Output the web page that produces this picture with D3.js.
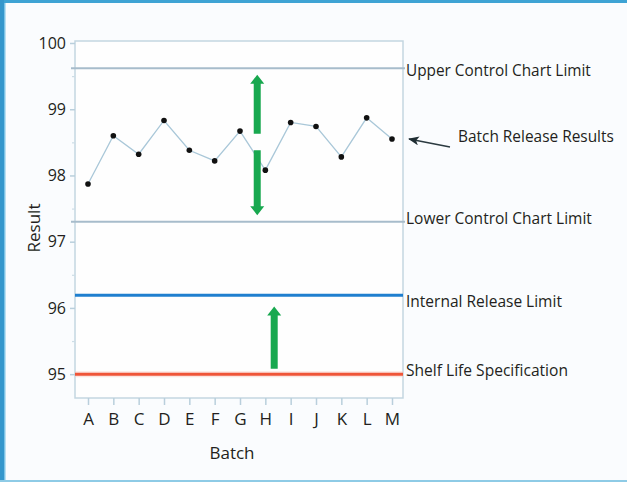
<!DOCTYPE html>
<html>
<head>
<meta charset="utf-8">
<script src="https://cdn.jsdelivr.net/npm/d3@7"></script>
<style>
  html, body { margin: 0; padding: 0; background: #ffffff; }
  svg { display: block; }
  text { font-family: "Open Sans", "Noto Sans", sans-serif; fill: #231f20; }
</style>
</head>
<body>
<svg id="chart" width="627" height="482"></svg>
<script>
// Batch release results (assay %) for batches A–M
const batches = ["A", "B", "C", "D", "E", "F", "G", "H", "I", "J", "K", "L", "M"];
const results = [97.87, 98.60, 98.32, 98.83, 98.38, 98.22, 98.67, 98.08, 98.80, 98.74, 98.28, 98.87, 98.55];

// Reference limits drawn across the chart
const limitNames = ["Upper Control Chart Limit", "Lower Control Chart Limit", "Internal Release Limit", "Shelf Life Specification"];
const limitValues = [99.62, 97.30, 96.19, 95.00];

// Y axis ticks
const yTicks = [95, 96, 97, 98, 99, 100];
const yMinorTicks = [95.5, 96.5, 97.5, 98.5, 99.5];

// Green arrows: batch they sit next to, and the values they span
const arrowBatch = ["G", "G", "H"];
const arrowFrom = [98.63, 98.38, 95.08];
const arrowTo = [99.52, 97.40, 96.02];

// Styling for the limit lines and their labels
const limitColors = ["#a7bccb", "#a7bccb", "#1f7fcf", "#ef5538"];
const limitWidths = [2, 2, 3, 3];
const limitLabelWidths = [185, 186, 156, 162];
const limitLabelDy = [8, 2, 12, 2];
const arrowOffset = [0.68, 0.68, 0.35];

const svg = d3.select("#chart");
const W = 627, H = 482;

// Squeeze a label horizontally to a given width, like a condensed face
function condense(sel, width) {
  sel.each(function () {
    const t = d3.select(this);
    const x0 = +t.attr("x"), y0 = +t.attr("y");
    const natural = this.getComputedTextLength();
    const k = width / natural;
    t.attr("x", 0).attr("y", 0)
      .attr("transform", `translate(${x0},${y0}) scale(${k},1)`);
  });
}

// Page frame
svg.append("rect").attr("x", 0).attr("y", 0).attr("width", W).attr("height", H).attr("fill", "#fafcfe");
svg.append("rect").attr("x", 0).attr("y", 0).attr("width", W).attr("height", 3).attr("fill", "#3ea3d4");
svg.append("rect").attr("x", 0).attr("y", 0).attr("width", 4).attr("height", H).attr("fill", "#3597cc");
svg.append("rect").attr("x", 4).attr("y", 3).attr("width", 1.5).attr("height", H).attr("fill", "#7cc3e6");
svg.append("rect").attr("x", 0).attr("y", 480).attr("width", W).attr("height", 2).attr("fill", "#8ecbe6");

const plot = { left: 75, right: 403, top: 41, bottom: 398 };

const x = d3.scalePoint().domain(batches).range([88, 392]);
const y = d3.scaleLinear().domain([94.64, 100.03]).range([plot.bottom, plot.top]);

// Plot panel
svg.append("rect")
  .attr("x", plot.left).attr("y", plot.top)
  .attr("width", plot.right - plot.left).attr("height", plot.bottom - plot.top)
  .attr("fill", "#fefefe").attr("stroke", "#c4d6e1").attr("stroke-width", 1.5);

// Y axis
const yAxis = d3.axisLeft(y).tickValues(yTicks).tickFormat(d3.format("d")).tickSize(5).tickPadding(4);
const gy = svg.append("g").attr("transform", `translate(${plot.left},0)`).call(yAxis);
gy.select(".domain").remove();
gy.selectAll(".tick line").attr("stroke", "#b9cfdc").attr("stroke-width", 1.5);
gy.selectAll(".tick text").attr("font-size", 16).attr("fill", "#231f20")
  .style("font-family", "'Open Sans', sans-serif");

const gyMinor = svg.append("g").attr("transform", `translate(${plot.left},0)`)
  .call(d3.axisLeft(y).tickValues(yMinorTicks).tickSize(3).tickFormat(""));
gyMinor.select(".domain").remove();
gyMinor.selectAll(".tick line").attr("stroke", "#cddde6").attr("stroke-width", 1.2);

// X axis
const xAxis = d3.axisBottom(x).tickSize(7).tickPadding(8);
const gx = svg.append("g").attr("transform", `translate(0,${plot.bottom})`).call(xAxis);
gx.select(".domain").remove();
gx.selectAll(".tick line").attr("stroke", "#b9cfdc").attr("stroke-width", 1.5);
gx.selectAll(".tick text").attr("font-size", 17).attr("fill", "#231f20")
  .style("font-family", "'Open Sans', sans-serif");

// Axis titles
svg.append("text").attr("x", 232).attr("y", 459).attr("text-anchor", "middle")
  .attr("font-size", 17).text("Batch");
svg.append("text").attr("transform", "translate(40,228) rotate(-90)").attr("text-anchor", "middle")
  .attr("font-size", 17).text("Result");

// Limit lines
const limits = limitNames.map((name, i) => ({ name, value: limitValues[i], color: limitColors[i], width: limitWidths[i], labelWidth: limitLabelWidths[i], dy: limitLabelDy[i] }));

// soft glow under the shelf-life line
svg.append("line")
  .attr("x1", plot.left).attr("x2", plot.right)
  .attr("y1", y(limitValues[3])).attr("y2", y(limitValues[3]))
  .attr("stroke", "#f9c9bf").attr("stroke-width", 6).attr("opacity", 0.45);

svg.selectAll("line.limit").data(limits).enter().append("line")
  .attr("class", "limit")
  .attr("x1", (d, i) => i < 2 ? plot.left - 4 : plot.left)
  .attr("x2", (d, i) => i < 2 ? plot.right + 2 : plot.right)
  .attr("y1", d => y(d.value)).attr("y2", d => y(d.value))
  .attr("stroke", d => d.color).attr("stroke-width", d => d.width);

svg.selectAll("text.limit").data(limits).enter().append("text")
  .attr("class", "limit")
  .attr("x", 406).attr("y", d => y(d.value) + d.dy)
  .attr("font-size", 17)
  .text(d => d.name)
  .each(function (d) { condense(d3.select(this), d.labelWidth); });

// Results series
const series = batches.map((b, i) => ({ batch: b, value: results[i] }));
svg.append("path").datum(series)
  .attr("fill", "none").attr("stroke", "#a9c7d8").attr("stroke-width", 1.3)
  .attr("d", d3.line().x(d => x(d.batch)).y(d => y(d.value)));
svg.selectAll("circle.pt").data(series).enter().append("circle")
  .attr("class", "pt")
  .attr("cx", d => x(d.batch)).attr("cy", d => y(d.value)).attr("r", 2.8)
  .attr("fill", "#111");

// Callout for the results series
const last = series[series.length - 1];
svg.append("defs").append("marker")
  .attr("id", "head").attr("viewBox", "0 0 12 10").attr("refX", 11).attr("refY", 5)
  .attr("markerWidth", 12).attr("markerHeight", 9).attr("orient", "auto")
  .attr("markerUnits", "userSpaceOnUse")
  .append("path").attr("d", "M0,0 L12,5 L0,10 L3,5 Z").attr("fill", "#1f2d33");
svg.append("line")
  .attr("x1", 450).attr("y1", y(last.value) + 8)
  .attr("x2", 409).attr("y2", y(last.value))
  .attr("stroke", "#2b3a40").attr("stroke-width", 1.6)
  .attr("marker-end", "url(#head)");
svg.append("text").attr("x", 458).attr("y", y(last.value) + 3)
  .attr("font-size", 17)
  .text("Batch Release Results")
  .call(condense, 156);

// Green arrows
const step = x.step();
function arrowPath(cx, yFrom, yTo) {
  const dir = yTo < yFrom ? -1 : 1;
  const shaft = 3.5, head = 7, headLen = 9;
  const base = yTo - dir * headLen;
  return `M${cx - shaft},${yFrom} L${cx - shaft},${base} L${cx - head},${base} L${cx},${yTo} L${cx + head},${base} L${cx + shaft},${base} L${cx + shaft},${yFrom} Z`;
}
svg.selectAll("path.garrow").data(arrowBatch.map((b, i) => i)).enter().append("path")
  .attr("class", "garrow")
  .attr("d", i => arrowPath(x(arrowBatch[i]) + arrowOffset[i] * step, y(arrowFrom[i]), y(arrowTo[i])))
  .attr("fill", "#18a84f");
</script>
</body>
</html>
